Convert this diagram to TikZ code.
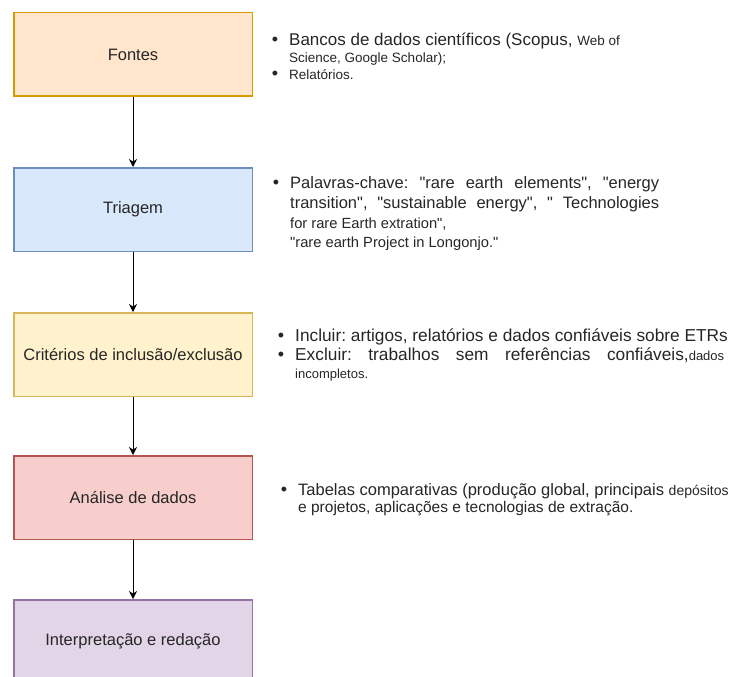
\documentclass[tikz,border=0pt]{standalone}
\usepackage{fontspec}
\setmainfont{Liberation Sans}
\usetikzlibrary{arrows.meta,positioning}

\definecolor{fontesfill}{HTML}{FFE6CC}
\definecolor{fontesline}{HTML}{D79B00}
\definecolor{triagemfill}{HTML}{DAE8FC}
\definecolor{triagemline}{HTML}{6C8EBF}
\definecolor{criteriosfill}{HTML}{FFF2CC}
\definecolor{criteriosline}{HTML}{D6B656}
\definecolor{analisefill}{HTML}{F8CECC}
\definecolor{analiseline}{HTML}{B85450}
\definecolor{redacaofill}{HTML}{E1D5E7}
\definecolor{redacaoline}{HTML}{9673A6}

\newcommand{\pequena}{\fontsize{13.5}{16}\selectfont}
\newcommand{\marca}{\llap{{\fontsize{18}{18}\selectfont\textbullet}\hspace{11pt}}}
\newcommand{\aspas}{\textquotedbl}
\frenchspacing

\tikzset{
  etapa/.style={draw, line width=1.5pt, minimum width=238.5pt, minimum height=83.5pt,
    inner sep=0pt, text=black!85, font=\fontsize{16.5}{20}\selectfont},
  seta/.style={-{Stealth[length=8pt,width=8pt]}, line width=0.9pt},
  lista/.style={anchor=base west, align=left, inner sep=0pt, text=black!85}
}

\begin{document}
\begin{tikzpicture}[x=1pt,y=-1pt]
    \useasboundingbox (0,0) rectangle (734,677);
    \clip (0,0) rectangle (734,677);

    % etapas
    \node [etapa, fill=fontesfill, draw=fontesline] (fontes) at (133,54.5) {Fontes};
    \node [etapa, fill=triagemfill, draw=triagemline] (triagem) at (133,209.5) {Triagem};
    \node [etapa, fill=criteriosfill, draw=criteriosline] (criterios) at (133,354.5) {Critérios de inclusão/exclusão};
    \node [etapa, fill=analisefill, draw=analiseline] (analise) at (133,497.5) {Análise de dados};
    \node [etapa, fill=redacaofill, draw=redacaoline] (redacao) at (133,641.5) {Interpretação e redação};

    \draw [seta] (fontes) -- (triagem);
    \draw [seta] (triagem) -- (criterios);
    \draw [seta] (criterios) -- (analise);
    \draw [seta] (analise) -- (redacao);

    % listas (ancoradas na linha de base da ultima linha)
    \node [lista, font=\fontsize{17}{16.7}\selectfont] (listafontes) at (289,79.3)
      {\marca Bancos de dados científicos (Scopus, {\pequena Web of}\\
       {\pequena Science, Google Scholar);}\\
       \marca{\pequena Relatórios.}};
    \node [lista, font=\fontsize{16.5}{19.7}\selectfont] (listatriagem) at (290,247.7)
      {\marca\makebox[369pt][s]{Palavras-chave: \aspas rare earth elements\aspas, \aspas energy}\\
       \makebox[369pt][s]{transition\aspas, \aspas sustainable energy\aspas, \aspas\ Technologies}\\
       {\fontsize{14.7}{19.7}\selectfont for rare Earth extration\aspas,}\\
       {\fontsize{14.7}{19.7}\selectfont \aspas rare earth Project in Longonjo.\aspas}};
    \node [lista, font=\fontsize{17.3}{19.7}\selectfont] (listacriterios) at (295,378)
      {\marca Incluir: artigos, relatórios e dados confiáveis sobre ETRs\\
       \marca\makebox[429pt][s]{Excluir: trabalhos sem referências confiáveis,{\fontsize{13}{16}\selectfont dados}}\\[-2.4pt]
       {\fontsize{13}{16}\selectfont incompletos.}};
    \node [lista, font=\fontsize{16.5}{16.5}\selectfont] (listaanalise) at (298,512)
      {\marca Tabelas comparativas (produção global, principais {\fontsize{14}{16}\selectfont depósitos}\\
       {\fontsize{15.5}{16.5}\selectfont e projetos, aplicações e tecnologias de extração.}};
\end{tikzpicture}
\end{document}
